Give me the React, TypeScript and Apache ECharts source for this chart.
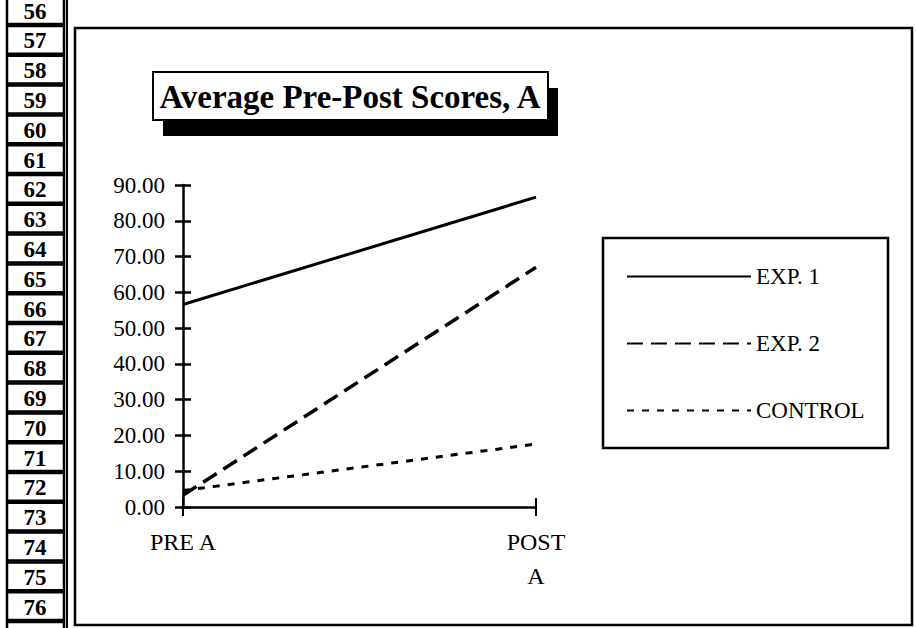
import React, { useEffect, useRef } from "react";
import * as echarts from "echarts";

const categories = ["PRE A", "POST A"];
const seriesNames = ["EXP. 1", "EXP. 2", "CONTROL"];
const exp1 = [56.6, 86.6];
const exp2 = [3.3, 67.0];
const control = [4.6, 17.6];
const yTicks = { min: 0, max: 90, interval: 10 };
const rowNumbers = [56, 57, 58, 59, 60, 61, 62, 63, 64, 65, 66, 67, 68, 69, 70, 71, 72, 73, 74, 75, 76, 77];
const titleText = "Average Pre-Post Scores, A";

const FONT = "'Liberation Serif', 'Times New Roman', serif";

export default function App() {
  const ref = useRef<HTMLDivElement>(null);
  useEffect(() => {
    if (!ref.current) return;
    const chart = echarts.init(ref.current, null, { renderer: "svg" });

    const rowH = 29.8;
    const rowGraphics: any[] = [];
    rowNumbers.forEach((n, i) => {
      const top = -4.8 + i * rowH;
      rowGraphics.push({
        type: "rect",
        shape: { x: 7, y: top + 1, width: 57, height: rowH - 2 },
        style: { fill: "#fff", stroke: "#000", lineWidth: 2.5 },
      });
      if (n <= 76) {
        rowGraphics.push({
          type: "text",
          x: 35,
          y: top + rowH / 2 + 1,
          style: {
            text: String(n),
            font: `bold 23px ${FONT}`,
            fill: "#000",
            align: "center",
            verticalAlign: "middle",
          },
        });
      }
    });

    const option: any = {
      animation: false,
      backgroundColor: "#fff",
      grid: { left: 183, top: 185, width: 353, height: 322, containLabel: false },
      legend: {
        orient: "vertical",
        left: 621,
        top: 260,
        itemWidth: 124,
        itemHeight: 14,
        itemGap: 44,
        data: seriesNames,
        itemStyle: { opacity: 0 },
        textStyle: { fontFamily: FONT, fontSize: 23, color: "#000" },
        selectedMode: false,
      },
      xAxis: [
        {
          type: "category",
          data: categories,
          boundaryGap: false,
          axisLine: { lineStyle: { color: "#000", width: 2.5 } },
          axisTick: { show: true, length: 9, lineStyle: { color: "#000", width: 2 } },
          axisLabel: {
            color: "#000",
            fontFamily: FONT,
            fontSize: 24,
            margin: 18,
            lineHeight: 34,
            formatter: (v: string) => (v === "POST A" ? "POST\nA" : v),
          },
          splitLine: { show: false },
        },
        {
          type: "category",
          data: categories,
          boundaryGap: false,
          position: "bottom",
          axisLine: { show: false },
          axisTick: { show: true, inside: true, length: 9, lineStyle: { color: "#000", width: 2 } },
          axisLabel: { show: false },
          splitLine: { show: false },
        },
      ],
      yAxis: [
        {
          type: "value",
          min: yTicks.min,
          max: yTicks.max,
          interval: yTicks.interval,
          axisLine: { show: true, lineStyle: { color: "#000", width: 2.5 } },
          axisTick: { show: true, length: 8, lineStyle: { color: "#000", width: 2.5 } },
          axisLabel: {
            color: "#000",
            fontFamily: FONT,
            fontSize: 23,
            margin: 18,
            formatter: (v: number) => v.toFixed(2),
          },
          splitLine: { show: false },
        },
        {
          type: "value",
          min: yTicks.min,
          max: yTicks.max,
          interval: yTicks.interval,
          position: "left",
          axisLine: { show: false },
          axisTick: { show: true, inside: true, length: 8, lineStyle: { color: "#000", width: 2.5 } },
          axisLabel: { show: false },
          splitLine: { show: false },
        },
      ],
      series: [
        {
          name: seriesNames[0],
          type: "line",
          data: exp1,
          symbol: "none",
          lineStyle: { color: "#000", width: 3, type: "solid" },
          itemStyle: { color: "#000" },
        },
        {
          name: seriesNames[1],
          type: "line",
          data: exp2,
          symbol: "none",
          lineStyle: { color: "#000", width: 3.5, type: [16, 8] },
          itemStyle: { color: "#000" },
        },
        {
          name: seriesNames[2],
          type: "line",
          data: control,
          symbol: "none",
          lineStyle: { color: "#000", width: 3, type: [7, 8] },
          itemStyle: { color: "#000" },
        },
      ],
      graphic: [
        ...rowGraphics,
        {
          type: "line",
          shape: { x1: 67, y1: 0, x2: 67, y2: 628 },
          style: { stroke: "#000", lineWidth: 2 },
        },
        {
          type: "rect",
          shape: { x: 75, y: 28, width: 837, height: 597 },
          style: { fill: "none", stroke: "#000", lineWidth: 2.5 },
          z: -1,
        },
        {
          type: "rect",
          shape: { x: 163, y: 88, width: 395, height: 48 },
          style: { fill: "#000" },
        },
        {
          type: "rect",
          shape: { x: 153, y: 72, width: 395, height: 48 },
          style: { fill: "#fff", stroke: "#000", lineWidth: 2 },
        },
        {
          type: "text",
          x: 350,
          y: 97,
          style: {
            text: titleText,
            font: `bold 33px ${FONT}`,
            fill: "#000",
            align: "center",
            verticalAlign: "middle",
          },
        },
        {
          type: "rect",
          shape: { x: 603, y: 238, width: 285, height: 210 },
          style: { fill: "none", stroke: "#000", lineWidth: 2.5 },
        },
      ],
    };
    chart.setOption(option);
    return () => chart.dispose();
  }, []);

  return (
    <div
      ref={ref}
      style={{ position: "fixed", left: 0, top: 0, width: 916, height: 628, background: "#fff" }}
    />
  );
}
